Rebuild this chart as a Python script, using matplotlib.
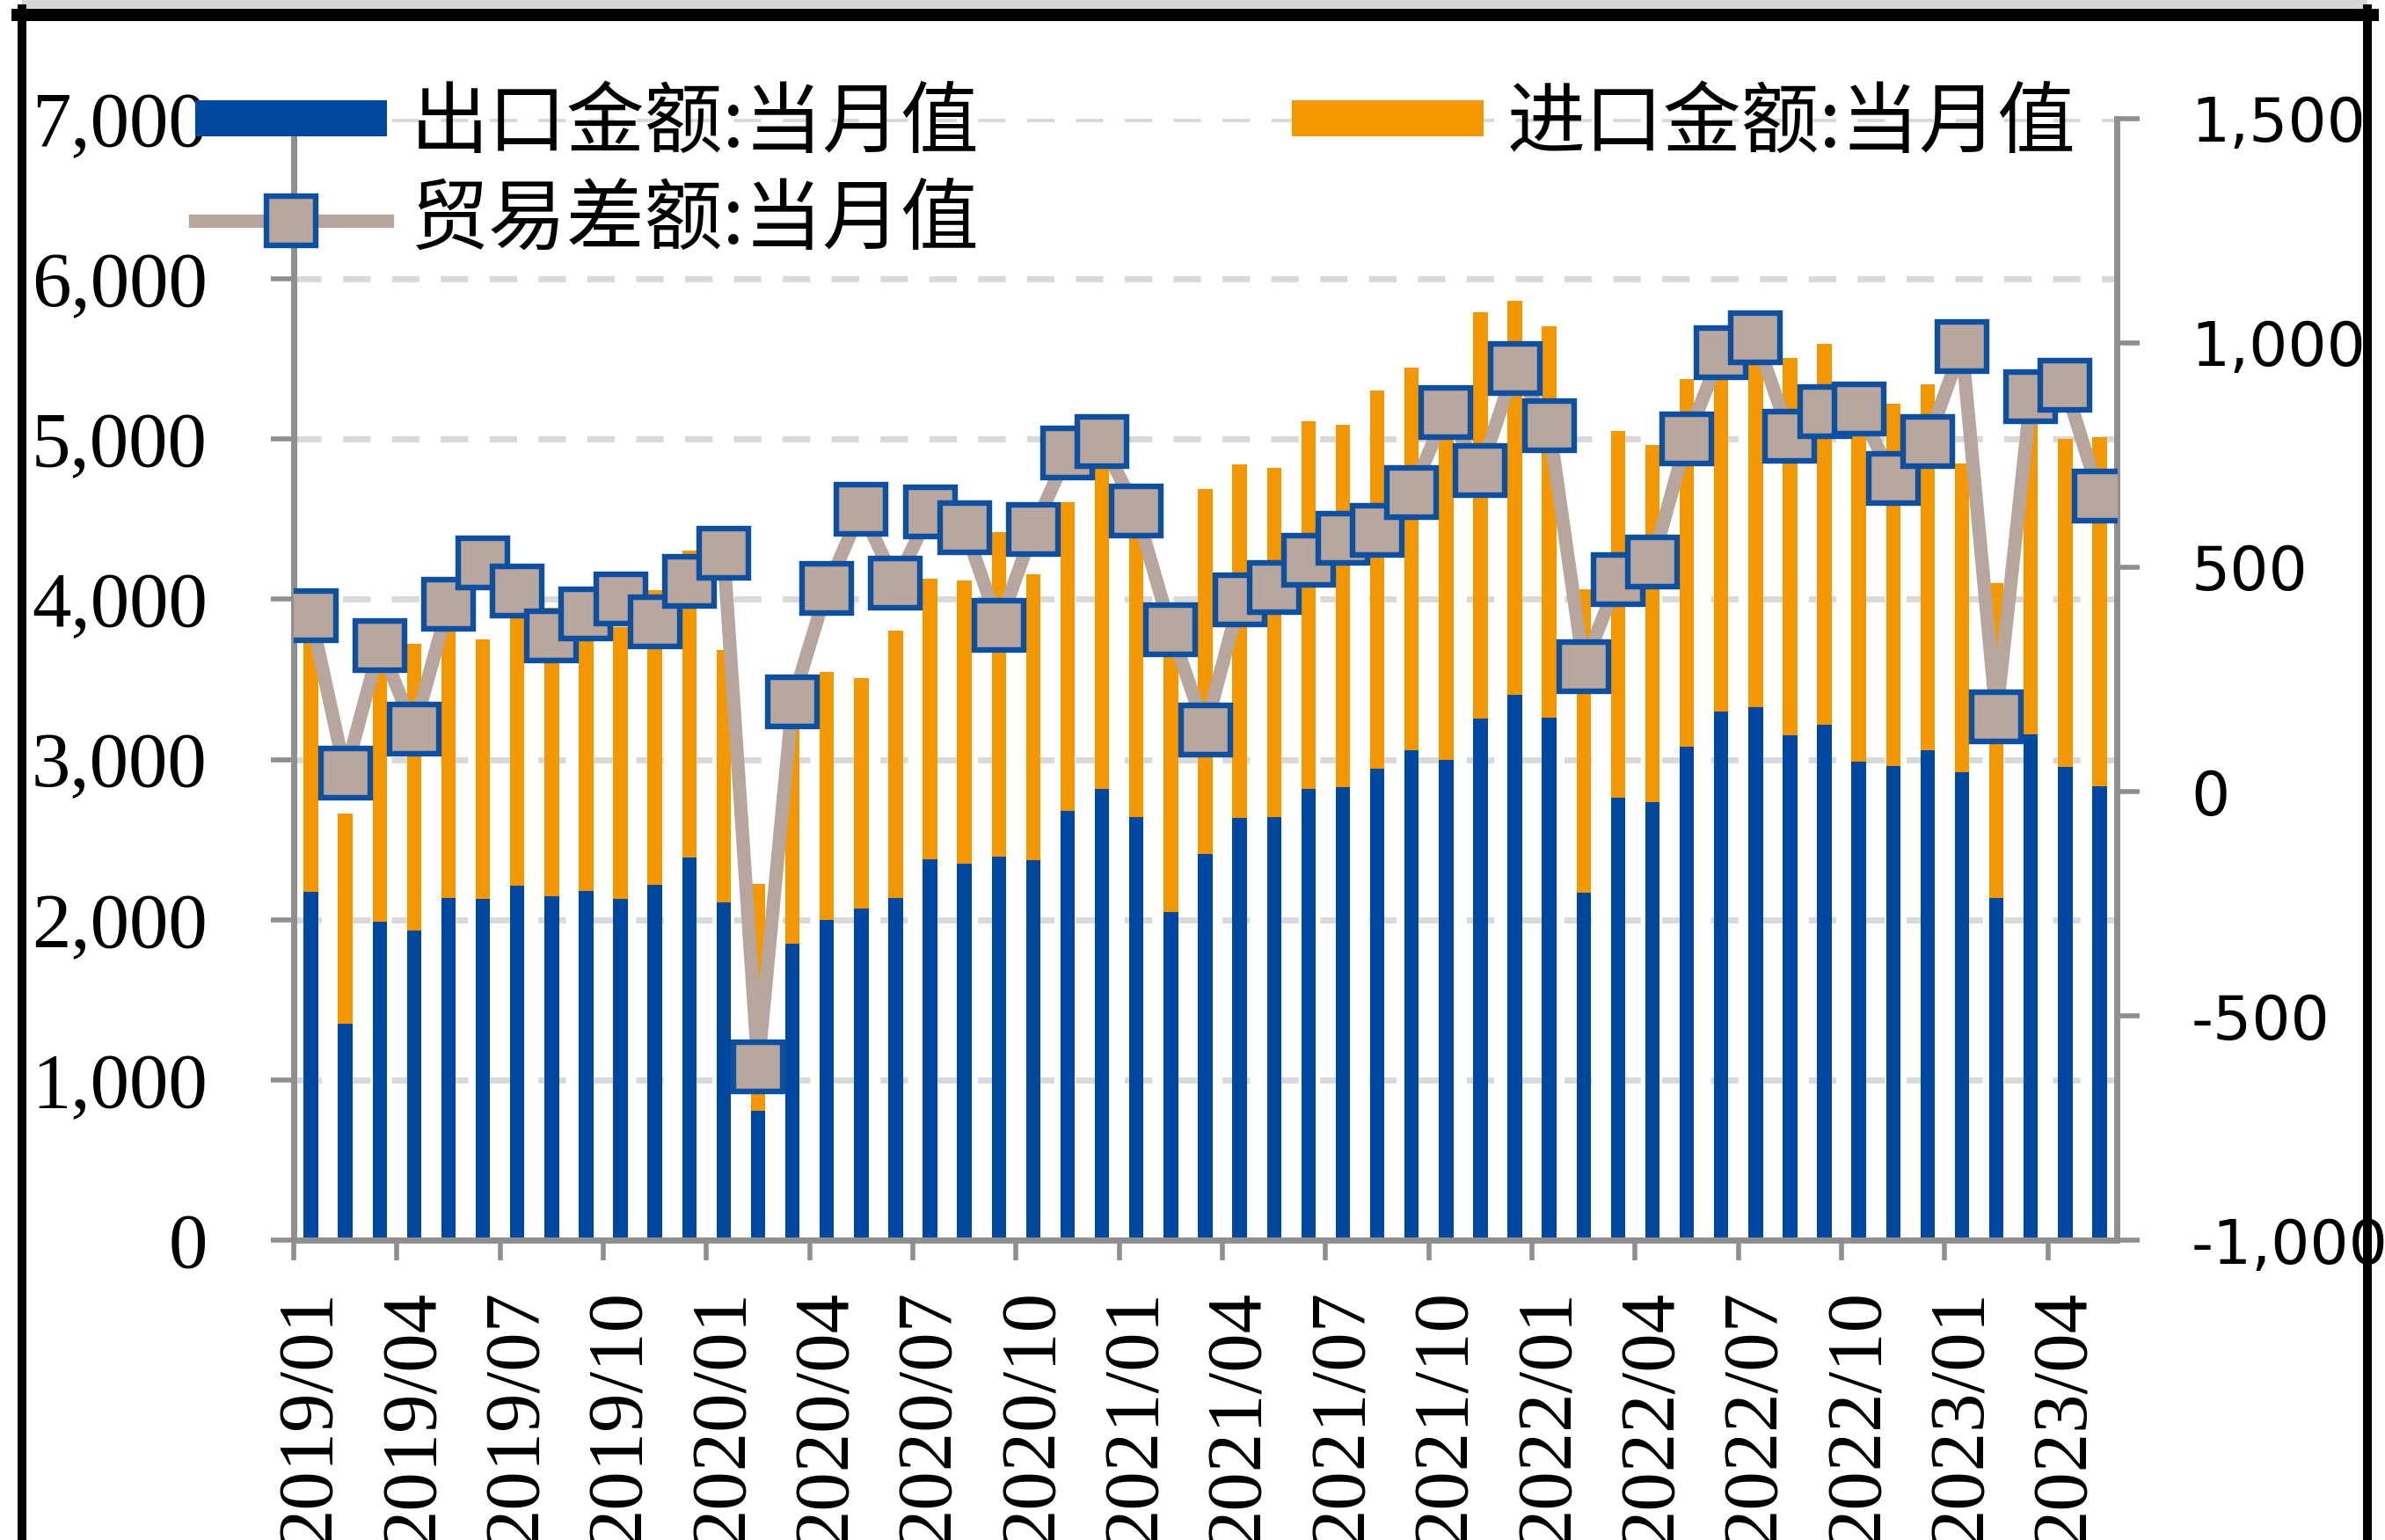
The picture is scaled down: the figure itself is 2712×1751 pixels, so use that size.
import matplotlib
matplotlib.use("Agg")
import matplotlib.pyplot as plt
import numpy as np
from matplotlib.ticker import FuncFormatter, FixedLocator
from matplotlib.patches import Rectangle
from matplotlib.lines import Line2D

plt.rcParams['axes.unicode_minus'] = False

months = ["2019/01","2019/02","2019/03","2019/04","2019/05","2019/06","2019/07","2019/08","2019/09","2019/10","2019/11","2019/12",
          "2020/01","2020/02","2020/03","2020/04","2020/05","2020/06","2020/07","2020/08","2020/09","2020/10","2020/11","2020/12",
          "2021/01","2021/02","2021/03","2021/04","2021/05","2021/06","2021/07","2021/08","2021/09","2021/10","2021/11","2021/12",
          "2022/01","2022/02","2022/03","2022/04","2022/05","2022/06","2022/07","2022/08","2022/09","2022/10","2022/11","2022/12",
          "2023/01","2023/02","2023/03","2023/04","2023/05"]

# 出口金额:当月值 (亿美元)
exports = [2176, 1352, 1987, 1932, 2138, 2129, 2214, 2148, 2181, 2129, 2218, 2386,
           2107, 805, 1851, 2001, 2068, 2136, 2375, 2352, 2394, 2371, 2680, 2819,
           2640, 2050, 2412, 2636, 2639, 2814, 2826, 2943, 3058, 3000, 3255, 3404,
           3260, 2170, 2761, 2736, 3082, 3300, 3329, 3149, 3220, 2984, 2960, 3060,
           2921, 2135, 3155, 2954, 2835]
# 进口金额:当月值 (亿美元)
imports = [1784, 1311, 1661, 1792, 1721, 1620, 1766, 1800, 1785, 1700, 1839, 1918,
           1576, 1418, 1651, 1548, 1439, 1671, 1752, 1763, 2024, 1787, 1926, 2038,
           2015, 1690, 2274, 2208, 2184, 2299, 2261, 2360, 2391, 2155, 2539, 2460,
           2444, 1891, 2288, 2225, 2295, 2321, 2317, 2356, 2373, 2132, 2262, 2280,
           1928, 1968, 2275, 2049, 2177]
# 贸易差额:当月值 (亿美元)
balance = [392, 41, 326, 140, 417, 509, 448, 348, 396, 429, 379, 468,
           531, -613, 200, 453, 629, 465, 623, 589, 370, 584, 754, 781,
           625, 360, 138, 428, 455, 515, 565, 583, 667, 845, 716, 944,
           816, 279, 473, 511, 787, 979, 1012, 793, 847, 852, 698, 780,
           993, 167, 880, 905, 658]

label_exp = "出口金额:当月值"
label_imp = "进口金额:当月值"
label_bal = "贸易差额:当月值"

BLUE = "#0047A0"
ORANGE = "#F39800"
TAN = "#B7A69E"
EDGE = "#0E4FA0"
SPINE = "#8F8F8F"
GRID = "#D9D9D9"

W, H = 2712, 1751
fig = plt.figure(figsize=(W / 200, H / 200), dpi=200)

ax = fig.add_axes([334 / W, 1 - 1410 / H, (2407 - 334) / W, (1410 - 135) / H])
x = np.arange(len(months)) + 0.5
b1 = ax.bar(x, exports, width=0.42, color=BLUE, zorder=2, label=label_exp)
b2 = ax.bar(x, imports, bottom=exports, width=0.42, color=ORANGE, zorder=2, label=label_imp)
ax.set_xlim(0, len(months))
ax.set_ylim(0, 7000)
ax.set_axisbelow(True)
ax.yaxis.set_major_locator(FixedLocator(np.arange(0, 7001, 1000)))
ax.yaxis.set_major_formatter(FuncFormatter(lambda v, p: f"{v:,.0f}"))
ax.grid(axis='y', color=GRID, linewidth=2.5, linestyle=(0, (4.5, 3.5)))
# labels under the first month of each quarter, tick marks at category boundaries
ax.set_xticks(x[::3])
ax.set_xticklabels(months[::3], rotation=90, family="Liberation Serif", fontsize=32)
ax.set_xticks(np.arange(0, len(months), 3), minor=True)
for lab in ax.get_yticklabels():
    lab.set_family("Liberation Serif")
    lab.set_fontsize(32)
ax.tick_params(axis='y', length=9.4, width=2, color=SPINE, pad=26)
ax.tick_params(axis='x', which='major', length=0, pad=12 + 8.3)
ax.tick_params(axis='x', which='minor', length=8.3, width=2, color=SPINE)
for s in ['top', 'right']:
    ax.spines[s].set_visible(False)
for s in ['left', 'bottom']:
    ax.spines[s].set_color(SPINE)
    ax.spines[s].set_linewidth(2.5)

ax2 = ax.twinx()
ln, = ax2.plot(x, balance, color=TAN, linewidth=5.5, marker='s', markersize=20.5,
               markerfacecolor=TAN, markeredgecolor=EDGE, markeredgewidth=2.3,
               zorder=3, label=label_bal)
ax2.set_ylim(-1000, 1500)
ax2.yaxis.set_major_locator(FixedLocator(np.arange(-1000, 1501, 500)))
ax2.yaxis.set_major_formatter(FuncFormatter(lambda v, p: f"{v:,.0f}"))
for lab in ax2.get_yticklabels():
    lab.set_family("DejaVu Sans")
    lab.set_fontsize(25)
ax2.tick_params(axis='y', length=9.4, width=2, color=SPINE, pad=21)
for s in ['top', 'left', 'bottom']:
    ax2.spines[s].set_visible(False)
ax2.spines['right'].set_color(SPINE)
ax2.spines['right'].set_linewidth(2.5)

leg = fig.legend(handles=[b1, ln, b2], labels=[label_exp, label_bal, label_imp],
                 ncol=2, loc='upper left', bbox_to_anchor=(222 / W, 1 - 95 / H),
                 bbox_transform=fig.transFigure, frameon=False,
                 prop=dict(family=["Noto Sans CJK SC", "DejaVu Sans"], size=32, style='italic'),
                 handlelength=2.45, handleheight=0.32, handletextpad=0.3,
                 columnspacing=4.0, borderpad=0, borderaxespad=0,
                 labelspacing=0.2, numpoints=1)

# frame around the picture
fig.add_artist(Rectangle((25 / W, 1 - 17 / H), (2692 - 25) / W, 17 / H,
                         transform=fig.transFigure, facecolor="#D6D6D6", edgecolor='none', zorder=0))
fig.add_artist(Line2D([20 / W, 2698 / W], [1 - 17 / H, 1 - 17 / H], transform=fig.transFigure,
                      color='black', linewidth=5))
fig.add_artist(Line2D([25 / W, 25 / W], [0, 1 - 10 / H], transform=fig.transFigure,
                      color='black', linewidth=3.6))
fig.add_artist(Line2D([2692 / W, 2692 / W], [0, 1 - 10 / H], transform=fig.transFigure,
                      color='black', linewidth=3.6, zorder=10))

fig.savefig("out.png", dpi=200, facecolor='white')
